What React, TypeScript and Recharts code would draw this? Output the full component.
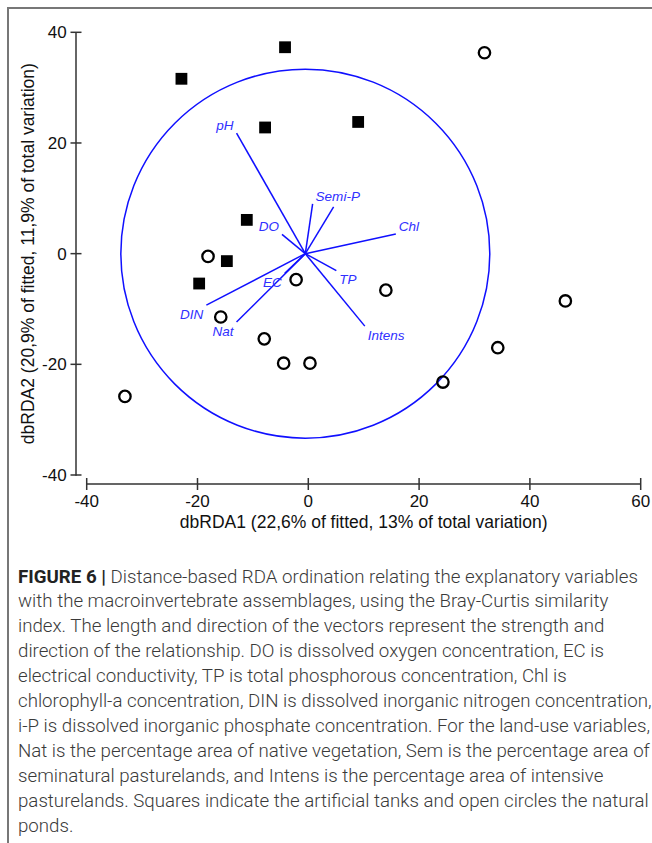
import React from 'react';
import { ScatterChart, Scatter, XAxis, YAxis, ReferenceLine, ReferenceDot, Label } from 'recharts';

// ---- data ----
const xTicks = [-40, -20, 0, 20, 40, 60];
const yTicks = [-40, -20, 0, 20, 40];

// artificial tanks (squares)
const tankX = [-22.9, -4.2, -7.8, 9.0, -11.1, -14.7, -19.7];
const tankY = [31.6, 37.3, 22.8, 23.8, 6.1, -1.35, -5.4];

// natural ponds (open circles)
const pondX = [-18.1, 31.8, -2.2, -15.8, -7.95, -4.45, 0.3, -33.1, 14.0, 46.4, 34.2, 24.3];
const pondY = [-0.5, 36.3, -4.7, -11.45, -15.4, -19.8, -19.8, -25.8, -6.6, -8.55, -17.0, -23.2];

// explanatory-variable vectors
const vectorNames = ['pH', 'Sem', 'i-P', 'Chl', 'DO', 'TP', 'Intens', 'DIN', 'Nat', 'EC'];
const vectorX = [-12.95, 0.78, 4.57, 15.8, -4.75, 5.06, 10.2, -18.4, -12.95, -4.25];
const vectorY = [21.8, 9.0, 8.45, 3.56, 3.49, -3.07, -13.1, -9.3, -12.36, -3.56];
const vectorOriginX = -0.54;
const vectorOriginY = 0;
const circleRadius = 33.3;

const xTitle = 'dbRDA1 (22,6% of fitted, 13% of total variation)';
const yTitle = 'dbRDA2 (20,9% of fitted, 11,9% of total variation)';

const captionBold = 'FIGURE 6 |';
const captionLines = [
  ' Distance-based RDA ordination relating the explanatory variables',
  'with the macroinvertebrate assemblages, using the Bray-Curtis similarity',
  'index. The length and direction of the vectors represent the strength and',
  'direction of the relationship. DO is dissolved oxygen concentration, EC is',
  'electrical conductivity, TP is total phosphorous concentration, Chl is',
  'chlorophyll-a concentration, DIN is dissolved inorganic nitrogen concentration,',
  'i-P is dissolved inorganic phosphate concentration. For the land-use variables,',
  'Nat is the percentage area of native vegetation, Sem is the percentage area of',
  'seminatural pasturelands, and Intens is the percentage area of intensive',
  'pasturelands. Squares indicate the artificial tanks and open circles the natural',
  'ponds.',
];

// ---- derived tables ----
const tanks = tankX.map((x, i) => ({ x, y: tankY[i] }));
const ponds = pondX.map((x, i) => ({ x, y: pondY[i] }));
const vectors = vectorNames.map((name, i) => ({
  name,
  x: vectorX[i],
  y: vectorY[i],
  dx: vectorX[i] - vectorOriginX,
  dy: vectorY[i] - vectorOriginY,
}));

// ---- layout / style ----
const W = 644;
const H = 540;
const MARGIN = { top: 24.3, right: 11.3, left: 8, bottom: 14 };
const Y_AXIS_W = 60;
const X_AXIS_H = 50;
const PAD_LEFT = 10.7;
const PAD_BOTTOM = 9;
const X_MIN = -40, X_MAX = 60;
const plotW = W - MARGIN.left - Y_AXIS_W - MARGIN.right;
const plotH = H - MARGIN.top - MARGIN.bottom - X_AXIS_H;
const pxPerUnit = (plotW - PAD_LEFT) / (X_MAX - X_MIN);

// small label nudges (px) so that "Sem" and "i-P" sit side by side as in the original
const labelNudge: Record<string, [number, number]> = { 'i-P': [7, -3] };

const BLUE = '#1010ff';
const LABEL_BLUE = '#3030ff';
const AXIS = '#333';
const FONT = '"Liberation Sans", Arial, sans-serif';
const TICK_FS = 17;
const TITLE_FS = 17.5;

const PAGE_CSS =
  'html{overflow:hidden}body{margin:8px 0 8px 8px !important;overflow:visible !important}#root{overflow:visible !important;width:auto}';

const XTick = (props: any) => {
  const { x, y, payload } = props;
  return (
    <g>
      <line x1={x} x2={x} y1={y - 6} y2={y + 6} stroke={AXIS} strokeWidth={1.5} />
      <text x={x} y={y + 22.5} textAnchor="middle" fontSize={TICK_FS} fontFamily={FONT} fill="#111">
        {payload.value}
      </text>
    </g>
  );
};

const YTick = (props: any) => {
  const { x, y, payload } = props;
  return (
    <g>
      <line x1={x - 5.5} x2={x + 5.5} y1={y} y2={y} stroke={AXIS} strokeWidth={1.5} />
      <text x={x - 9.3} y={y + 6} textAnchor="end" fontSize={TICK_FS} fontFamily={FONT} fill="#111">
        {payload.value}
      </text>
    </g>
  );
};

const SquareShape = (props: any) => {
  const { cx, cy } = props;
  const s = 11.8;
  return <rect x={cx - s / 2} y={cy - s / 2} width={s} height={s} fill="#000" />;
};

const RingShape = (props: any) => {
  const { cx, cy } = props;
  return <circle cx={cx} cy={cy} r={5.7} fill="none" stroke="#000" strokeWidth={2.3} />;
};

const VectorLabel = (props: any) => {
  const { cx, cy, payload } = props;
  const right = payload.dx >= 0;
  const up = payload.dy >= 0;
  const [nx, ny] = labelNudge[payload.name] || [0, 0];
  return (
    <text
      x={cx + (right ? 3 : -3) + nx}
      y={(up ? cy - 3 : cy + 13.5) + ny}
      textAnchor={right ? 'start' : 'end'}
      fontSize={13.5}
      fontStyle="italic"
      fontFamily={FONT}
      fill={LABEL_BLUE}
    >
      {payload.name}
    </text>
  );
};

const XTitle = (props: any) => {
  const vb = props.viewBox;
  return (
    <text
      x={vb.x + PAD_LEFT + (vb.width - PAD_LEFT) / 2}
      y={vb.y + 43.5}
      textAnchor="middle"
      fontSize={TITLE_FS}
      fontFamily={FONT}
      fill="#111"
    >
      {xTitle}
    </text>
  );
};

const YTitle = (props: any) => {
  const vb = props.viewBox;
  const cx = vb.x + 12.3;
  const cy = MARGIN.top + (plotH - PAD_BOTTOM) / 2;
  return (
    <text
      x={cx}
      y={cy}
      transform={`rotate(-90 ${cx} ${cy})`}
      textAnchor="middle"
      dominantBaseline="central"
      fontSize={TITLE_FS}
      fontFamily={FONT}
      fill="#111"
    >
      {yTitle}
    </text>
  );
};

export default function App() {
  return (
    <div style={{ position: 'relative', width: W, height: 827 }}>
      <style>{PAGE_CSS}</style>
      <div style={{ position: 'absolute', left: -1, top: -1, width: W + 1, height: 2, background: '#777' }} />
      <div style={{ position: 'absolute', left: -1, top: -1, width: 2, height: 836, background: '#777' }} />
      <ScatterChart width={W} height={H} margin={MARGIN} style={{ overflow: 'visible' }}>
        <XAxis
          type="number"
          dataKey="x"
          domain={[X_MIN, X_MAX]}
          ticks={xTicks}
          allowDataOverflow
          padding={{ left: PAD_LEFT, right: 0 }}
          height={X_AXIS_H}
          tickSize={0}
          tickMargin={0}
          tickLine={false}
          tick={<XTick />}
          axisLine={{ stroke: AXIS, strokeWidth: 1.5, strokeDasharray: `0 ${PAD_LEFT} ${plotW - PAD_LEFT + 1} 100` }}
          interval={0}
        >
          <Label content={<XTitle />} />
        </XAxis>
        <YAxis
          type="number"
          dataKey="y"
          domain={[-40, 40]}
          ticks={yTicks}
          allowDataOverflow
          padding={{ top: 0, bottom: PAD_BOTTOM }}
          width={Y_AXIS_W}
          tickSize={0}
          tickMargin={0}
          tickLine={false}
          tick={<YTick />}
          axisLine={{
            stroke: AXIS,
            strokeWidth: 1.5,
            strokeDasharray: `${plotH - PAD_BOTTOM + 0.7} 100`,
          }}
          interval={0}
        >
          <Label content={<YTitle />} />
        </YAxis>
        <ReferenceDot
          x={vectorOriginX}
          y={vectorOriginY}
          r={circleRadius * pxPerUnit}
          fill="none"
          stroke={BLUE}
          strokeWidth={1.5}
          ifOverflow="visible"
        />
        {vectors.map((v) => (
          <ReferenceLine
            key={v.name}
            segment={[
              { x: vectorOriginX, y: vectorOriginY },
              { x: v.x, y: v.y },
            ]}
            stroke={BLUE}
            strokeWidth={1.5}
            ifOverflow="visible"
          />
        ))}
        <Scatter data={vectors} shape={<VectorLabel />} isAnimationActive={false} />
        <Scatter data={tanks} shape={<SquareShape />} isAnimationActive={false} />
        <Scatter data={ponds} shape={<RingShape />} isAnimationActive={false} />
      </ScatterChart>
      <div
        style={{
          position: 'absolute',
          left: 10,
          top: 556.5,
          fontFamily: 'Roboto, "Noto Sans", sans-serif',
          fontWeight: 300,
          fontSize: 18.7,
          lineHeight: '24.9px',
          color: '#3a3a3a',
          whiteSpace: 'nowrap',
        }}
      >
        {captionLines.map((line, i) => (
          <div key={i}>
            {i === 0 && <span style={{ fontWeight: 700, color: '#222' }}>{captionBold}</span>}
            {line}
          </div>
        ))}
      </div>
    </div>
  );
}
